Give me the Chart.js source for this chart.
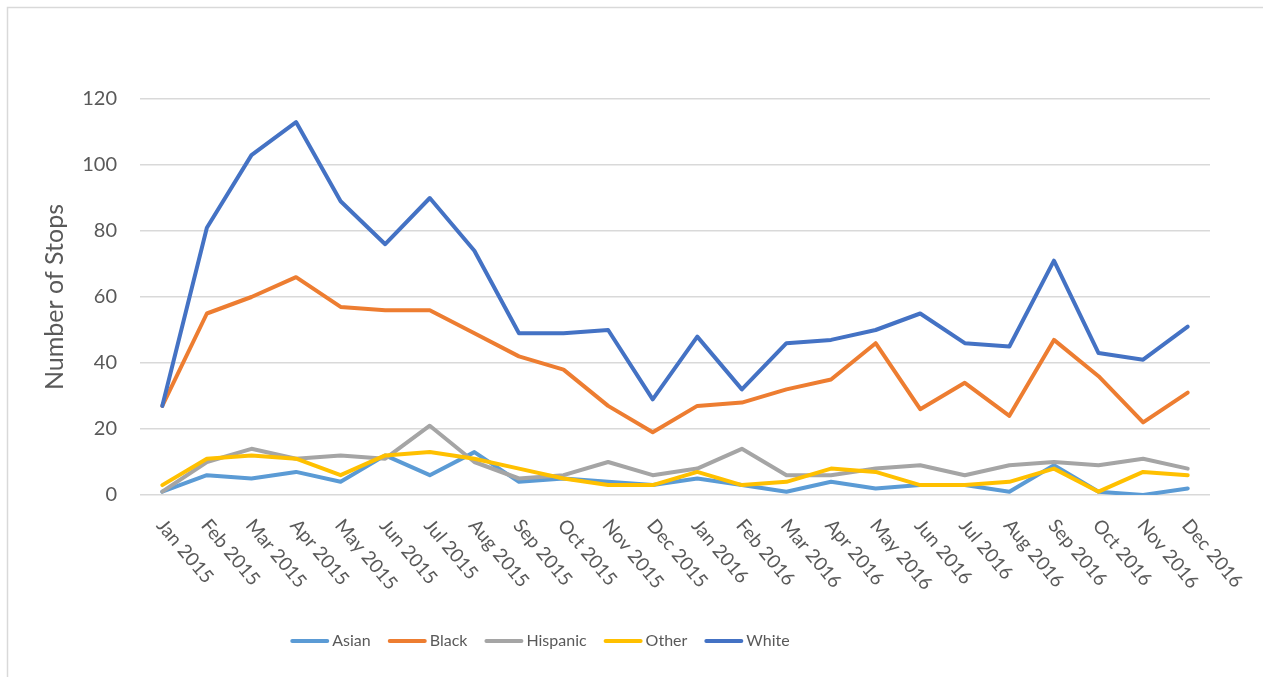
<!DOCTYPE html>
<html>
<head>
<meta charset="utf-8">
<title>Number of Stops by Race</title>
<script src="https://cdn.jsdelivr.net/npm/chart.js@4/dist/chart.umd.min.js"></script>
<style>
    html, body { margin: 0; padding: 0; background: #ffffff; }
    #wrap { position: relative; width: 1263px; height: 677px; }
</style>
</head>
<body>
<div id="wrap"><canvas id="stops-chart" width="1263" height="677"></canvas></div>
<script>
// Monthly stops, Jan 2015 - Dec 2016
const months = ['Jan 2015', 'Feb 2015', 'Mar 2015', 'Apr 2015', 'May 2015', 'Jun 2015',
    'Jul 2015', 'Aug 2015', 'Sep 2015', 'Oct 2015', 'Nov 2015', 'Dec 2015',
    'Jan 2016', 'Feb 2016', 'Mar 2016', 'Apr 2016', 'May 2016', 'Jun 2016',
    'Jul 2016', 'Aug 2016', 'Sep 2016', 'Oct 2016', 'Nov 2016', 'Dec 2016'];

const asian    = [1, 6, 5, 7, 4, 12, 6, 13, 4, 5, 4, 3, 5, 3, 1, 4, 2, 3, 3, 1, 9, 1, 0, 2];
const black    = [27, 55, 60, 66, 57, 56, 56, 49, 42, 38, 27, 19, 27, 28, 32, 35, 46, 26, 34, 24, 47, 36, 22, 31];
const hispanic = [1, 10, 14, 11, 12, 11, 21, 10, 5, 6, 10, 6, 8, 14, 6, 6, 8, 9, 6, 9, 10, 9, 11, 8];
const other    = [3, 11, 12, 11, 6, 12, 13, 11, 8, 5, 3, 3, 7, 3, 4, 8, 7, 3, 3, 4, 8, 1, 7, 6];
const white    = [27, 81, 103, 113, 89, 76, 90, 74, 49, 49, 50, 29, 48, 32, 46, 47, 50, 55, 46, 45, 71, 43, 41, 51];

const yTicks = [0, 20, 40, 60, 80, 100, 120];

const seriesNames  = ['Asian', 'Black', 'Hispanic', 'Other', 'White'];
const seriesData   = [asian, black, hispanic, other, white];
const seriesColors = ['#5B9BD5', '#ED7D31', '#A5A5A5', '#FFC000', '#4472C4'];

const textColor = '#595959';
const gridColor = '#d9d9d9';
const fontFamily = 'Lato, "Open Sans", sans-serif';

// outer frame (top + left only, like the source image)
const framePlugin = {
    id: 'frame',
    beforeDraw(chart) {
        const ctx = chart.ctx;
        ctx.save();
        ctx.strokeStyle = gridColor;
        ctx.lineWidth = 1.5;
        ctx.beginPath();
        ctx.moveTo(7.5, chart.height);
        ctx.lineTo(7.5, 7.5);
        ctx.lineTo(chart.width, 7.5);
        ctx.stroke();
        ctx.restore();
    }
};

// x labels rotated clockwise, starting at the tick
const xLabelPlugin = {
    id: 'xLabels',
    afterDraw(chart) {
        const ctx = chart.ctx;
        const xScale = chart.scales.x;
        ctx.save();
        ctx.fillStyle = textColor;
        ctx.font = '19px ' + fontFamily;
        ctx.textAlign = 'left';
        ctx.textBaseline = 'middle';
        months.forEach(function(label, i) {
            const x = xScale.getPixelForValue(i);
            ctx.save();
            ctx.translate(x - 2, chart.chartArea.bottom + 27);
            ctx.rotate(50 * Math.PI / 180);
            ctx.fillText(label, 0, 0);
            ctx.restore();
        });
        ctx.restore();
    }
};

// legend drawn as line samples under the chart
const legendPlugin = {
    id: 'lineLegend',
    afterDraw(chart) {
        const ctx = chart.ctx;
        const sampleW = 39, gapText = 3, gapItem = 17;
        const y = 641;
        ctx.save();
        ctx.font = '16px ' + fontFamily;
        ctx.textBaseline = 'middle';
        let total = 0;
        seriesNames.forEach(function(name, i) {
            total += sampleW + gapText + ctx.measureText(name).width;
            if (i < seriesNames.length - 1) total += gapItem;
        });
        let x = 540 - total / 2;
        seriesNames.forEach(function(name, i) {
            ctx.strokeStyle = seriesColors[i];
            ctx.lineWidth = 4;
            ctx.lineCap = 'round';
            ctx.beginPath();
            ctx.moveTo(x + 2, y);
            ctx.lineTo(x + sampleW - 2, y);
            ctx.stroke();
            x += sampleW + gapText;
            ctx.fillStyle = textColor;
            ctx.textAlign = 'left';
            ctx.fillText(name, x, y);
            x += ctx.measureText(name).width + gapItem;
        });
        ctx.restore();
    }
};

const datasets = seriesNames.map(function(name, i) {
    return {
        label: name,
        data: seriesData[i],
        borderColor: seriesColors[i],
        backgroundColor: seriesColors[i],
        borderWidth: 4,
        borderCapStyle: 'round',
        borderJoinStyle: 'round',
        pointRadius: 0,
        tension: 0,
        fill: false,
        order: seriesNames.length - i
    };
});

new Chart(document.getElementById('stops-chart'), {
    type: 'line',
    data: { labels: months, datasets: datasets },
    plugins: [framePlugin, xLabelPlugin, legendPlugin],
    options: {
        responsive: false,
        animation: false,
        layout: { padding: { top: 99, right: 53, left: 0, bottom: 0 } },
        plugins: {
            legend: { display: false },
            tooltip: { enabled: false }
        },
        scales: {
            x: {
                offset: true,
                grid: { display: false },
                border: { display: false },
                ticks: { display: false },
                afterFit: function(scale) { scale.height = 182; }
            },
            y: {
                min: 0,
                max: 120,
                afterBuildTicks: function(scale) {
                    scale.ticks = yTicks.map(function(v) { return { value: v }; });
                },
                grid: { color: gridColor, lineWidth: 1.5, drawTicks: false },
                border: { display: false },
                ticks: {
                    color: textColor,
                    padding: 23,
                    font: { family: fontFamily, size: 20 }
                },
                title: {
                    display: true,
                    text: 'Number of Stops',
                    color: textColor,
                    font: { family: fontFamily, size: 25 },
                    padding: { top: 40, bottom: 0 }
                },
                afterFit: function(scale) { scale.width = 140; }
            }
        }
    }
});
</script>
</body>
</html>
